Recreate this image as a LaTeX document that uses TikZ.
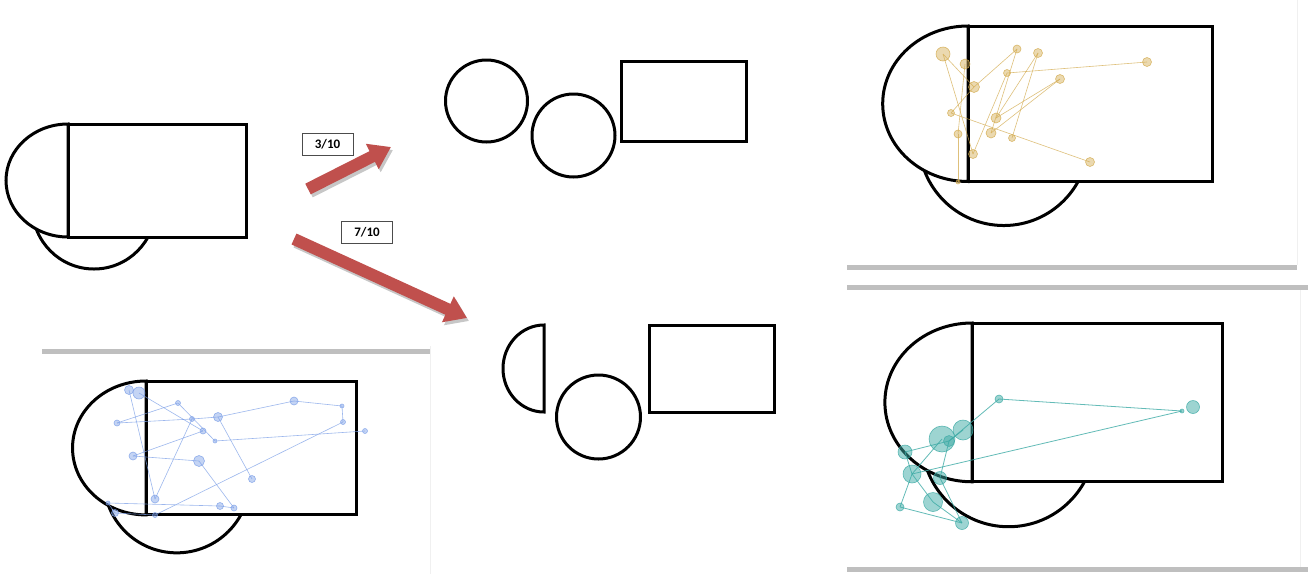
\documentclass[tikz,border=0pt]{standalone}
\usepackage{fontspec}
\newfontfamily\labelfont{Carlito}
\usepackage{tikz}
\usetikzlibrary{arrows.meta}
\definecolor{arrowred}{RGB}{192,80,77}
\definecolor{bargray}{RGB}{191,191,191}
\definecolor{bluedot}{RGB}{125,160,232}
\definecolor{golddot}{RGB}{212,172,80}
\definecolor{tealdot}{RGB}{60,170,165}

\tikzset{
  outline/.style={line width=3pt, draw=black, fill=white},
  combo/.pic={
    \draw[outline] (26,83.4) circle[radius=61.6];
    \draw[outline] (0,0) arc[start angle=270, end angle=90, x radius=62, y radius=56.5] -- cycle;
    \draw[outline] (0,0) rectangle (178,113);
  },
  bigarrow/.style={line width=12pt, draw=arrowred, -{Triangle[width=27pt, length=21pt]}},
  arrowshade/.style={bigarrow, draw=black!22, transform canvas={shift={(2,3)}}},
  fracbox/.style={
    draw=black!70,
    line width=0.8pt,
    fill=white,
    minimum width=51pt,
    minimum height=22pt,
    inner sep=0pt,
    font=\labelfont\bfseries\fontsize{13}{14}\selectfont
  },
  panelbar/.style={line width=5pt, draw=bargray},
  paneledge/.style={line width=1pt, draw=black!6},
  dotbase/.style={circle, inner sep=0pt, line width=0.6pt, fill opacity=0.45, draw opacity=0.8},
  bdot/.style={dotbase, draw=bluedot, fill=bluedot, minimum size=#1},
  gdot/.style={dotbase, draw=golddot, fill=golddot, minimum size=#1},
  tdot/.style={dotbase, draw=tealdot, fill=tealdot, fill opacity=0.5, minimum size=#1},
  bline/.style={draw=bluedot, line width=0.6pt, draw opacity=0.75},
  gline/.style={draw=golddot, line width=0.6pt, draw opacity=0.75},
  tline/.style={draw=tealdot, line width=0.8pt, draw opacity=0.8}
}

\begin{document}
\begin{tikzpicture}[x=1pt, y=-1pt]
  \useasboundingbox (0,0) rectangle (1308,574);

  % panel frames
  \draw[paneledge] (430,346) -- (430,574);
  \draw[panelbar] (42,351) -- (430,351);
  \draw[paneledge] (1297,0) -- (1297,265);
  \draw[panelbar] (847,267) -- (1297,267);
  \draw[panelbar] (847,287) -- (1308,287);
  \draw[paneledge] (1300,290) -- (1300,567);
  \draw[panelbar] (847,569) -- (1308,569);

  % whole layouts
  \pic at (68,124) {combo};
  \pic[scale=1.185] at (146,381) {combo};
  \pic[scale=1.376] at (968,26) {combo};
  \pic[scale=1.405] at (972,323) {combo};

  % split pieces
  \draw[outline] (486.5,101) circle[radius=41];
  \draw[outline] (573.5,135.5) circle[radius=41.5];
  \draw[outline] (621,61) rectangle (746,141);
  \draw[outline] (544,325) arc[start angle=270, end angle=90, x radius=41, y radius=43.5] -- cycle;
  \draw[outline] (598.5,417) circle[radius=42];
  \draw[outline] (649,325) rectangle (774,412);

  % arrows and shares
  \coordinate (a1s) at (308,189);
  \coordinate (a1e) at (391,147);
  \coordinate (a2s) at (294,239);
  \coordinate (a2e) at (467,318);
  \foreach \s/\e in {a1s/a1e, a2s/a2e} {
    \draw[arrowshade] (\s) -- (\e);
    \draw[bigarrow] (\s) -- (\e);
  }
  \node[fracbox] (share3) at (327.5,144) {3/10};
  \node[fracbox] (share7) at (367,232.5) {7/10};

  % blue path
  \foreach \n/\x/\y/\d in {b1/129/390/9, b2/139/393/12, b3/178/403/5, b4/117/423/6,
      b5/192/419/5, b6/218/417/9, b7/294/401/8, b8/342/406/4, b9/343/422/5,
      b10/365/431/5, b11/203/431/6, b12/215/441/4, b13/133/456/8, b14/199/461/11,
      b15/252/479/7, b16/155/499/8, b17/220/506/7, b18/234/508/6, b19/108/503/4,
      b20/115/513/7, b21/155/515/5}
    \node[bdot=\d pt] (\n) at (\x,\y) {};
  \foreach \a/\b in {b1/b16, b2/b11, b11/b13, b13/b14, b14/b18, b19/b17, b17/b18,
      b4/b5, b5/b6, b6/b7, b7/b8, b8/b9, b9/b21, b6/b15, b12/b10, b3/b12, b4/b3,
      b16/b5, b19/b20, b20/b21}
    \draw[bline] (\a.center) -- (\b.center);

  % gold path
  \foreach \n/\x/\y/\d in {g1/943/54/14, g2/965/64/10, g3/974/87/11, g4/1017/49/8,
      g5/1038/53/9, g6/1007/73/7, g7/1147/62/9, g8/1060/79/9, g9/951/113/7,
      g10/958/134/8, g11/996/118/10, g12/991/133/10, g13/1012/138/7,
      g14/973/154/9, g15/1090/162/9, g16/958/182/4}
    \node[gdot=\d pt] (\n) at (\x,\y) {};
  \foreach \a/\b in {g1/g3, g3/g4, g2/g10, g10/g16, g1/g14, g9/g3, g9/g15, g6/g7,
      g6/g14, g5/g11, g5/g13, g8/g11, g8/g12, g4/g12}
    \draw[gline] (\a.center) -- (\b.center);

  % teal path
  \foreach \n/\x/\y/\d in {t1/999/399/8, t2/1193/407/13, t3/1182/411/4,
      t4/963/430/20, t5/942/439/26, t6/949/441/11, t7/905/452/14, t8/912/474/18,
      t9/940/478/13, t10/933/502/19, t11/900/507/8, t12/962/523/13}
    \node[tdot=\d pt] (\n) at (\x,\y) {};
  \foreach \a/\b in {t6/t1, t1/t3, t3/t8, t7/t6, t8/t5, t8/t11, t11/t12, t12/t10,
      t9/t6, t7/t8, t12/t9, t4/t6, t10/t8}
    \draw[tline] (\a.center) -- (\b.center);
\end{tikzpicture}
\end{document}
